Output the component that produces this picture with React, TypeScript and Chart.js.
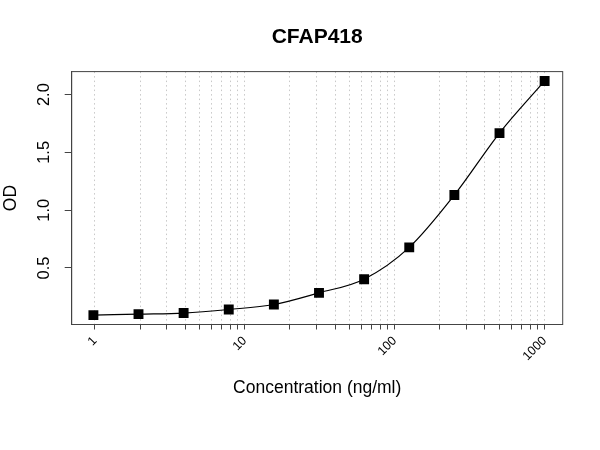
import { useEffect, useRef } from 'react';
import { Chart, registerables } from 'chart.js';

Chart.register(...registerables);

// standard curve: 2-fold dilutions from 1000 ng/ml
const concentrations = [0.977, 1.953, 3.906, 7.813, 15.625, 31.25, 62.5, 125, 250, 500, 1000];
const odValues = [0.092, 0.101, 0.110, 0.141, 0.184, 0.285, 0.403, 0.678, 1.131, 1.667, 2.118];

// log-axis grid positions and labelled ticks
const xGrid = [1, 2, 3, 4, 5, 6, 7, 8, 9, 10, 20, 30, 40, 50, 60, 70, 80, 90, 100, 200, 300, 400, 500, 600, 700, 800, 900, 1000];
const xLabels = [1, 10, 100, 1000];
const yTicks = [0.5, 1.0, 1.5, 2.0];

const FONT = "'Liberation Sans', Arial, sans-serif";
const AXIS = '#444';

const boxPlugin = {
  id: 'box',
  afterDraw(chart: Chart) {
    const { ctx, chartArea: a } = chart;
    ctx.save();
    ctx.strokeStyle = AXIS;
    ctx.lineWidth = 1;
    ctx.strokeRect(a.left, a.top, a.right - a.left, a.bottom - a.top);
    ctx.restore();
  },
};

function StandardCurve() {
  const canvasRef = useRef<HTMLCanvasElement>(null);
  const chartRef = useRef<Chart | null>(null);

  useEffect(() => {
    if (!canvasRef.current) return;
    chartRef.current?.destroy();
    chartRef.current = new Chart(canvasRef.current, {
      type: 'line',
      data: {
        datasets: [{
          label: 'OD',
          data: concentrations.map((c, i) => ({ x: c, y: odValues[i] })),
          borderColor: '#000',
          borderWidth: 1.2,
          backgroundColor: '#000',
          pointStyle: 'rect',
          pointRadius: 7,
          pointBorderWidth: 0,
          pointBackgroundColor: '#000',
          cubicInterpolationMode: 'monotone',
          fill: false,
        }],
      },
      options: {
        responsive: false,
        animation: false,
        layout: { padding: { top: 24.6, right: 37.3, bottom: 51.8, left: 0 } },
        plugins: {
          legend: { display: false },
          tooltip: { enabled: false },
          title: {
            display: true,
            text: 'CFAP418',
            fullSize: false,
            color: '#000',
            font: { family: FONT, size: 21, weight: 'bold' },
            padding: { top: 0, bottom: 21.8 },
          },
        },
        scales: {
          x: {
            type: 'logarithmic',
            min: 0.74,
            max: 1320,
            afterBuildTicks: (scale: any) => {
              scale.ticks = xGrid.map((v) => ({ value: v }));
            },
            afterFit: (scale: any) => { scale.height = 73.7; },
            ticks: {
              autoSkip: false,
              minRotation: 45,
              maxRotation: 45,
              padding: 4,
              color: '#000',
              font: { family: FONT, size: 12.5 },
              callback: (v: any) => (xLabels.includes(Number(v)) ? String(v) : ''),
            },
            grid: {
              color: '#c8c8c8',
              tickColor: AXIS,
              tickLength: 5,
            },
            border: { color: AXIS, dash: [1.5, 3] },
            title: {
              display: true,
              text: 'Concentration (ng/ml)',
              color: '#000',
              font: { family: FONT, size: 17.5 },
              padding: { top: 0, bottom: 0 },
            },
          },
          y: {
            min: 0.011,
            max: 2.199,
            afterBuildTicks: (scale: any) => {
              scale.ticks = yTicks.map((v) => ({ value: v }));
            },
            afterFit: (scale: any) => { scale.width = 71.7; },
            ticks: {
              minRotation: 90,
              maxRotation: 90,
              crossAlign: 'center',
              padding: 8.5,
              color: '#000',
              font: { family: FONT, size: 16.5 },
              callback: (v: any) => Number(v).toFixed(1),
            },
            grid: {
              drawOnChartArea: false,
              tickColor: AXIS,
              tickLength: 7,
            },
            border: { color: AXIS },
            title: {
              display: true,
              text: 'OD',
              color: '#000',
              font: { family: FONT, size: 17.5 },
              padding: { top: 1, bottom: 0 },
            },
          },
        },
      },
      plugins: [boxPlugin],
    });
    return () => chartRef.current?.destroy();
  }, []);

  return <canvas ref={canvasRef} width={600} height={450} />;
}

export default function App() {
  return (
    <div style={{ position: 'absolute', left: 0, top: 0, width: 600, height: 450, background: '#fff' }}>
      <StandardCurve />
    </div>
  );
}
